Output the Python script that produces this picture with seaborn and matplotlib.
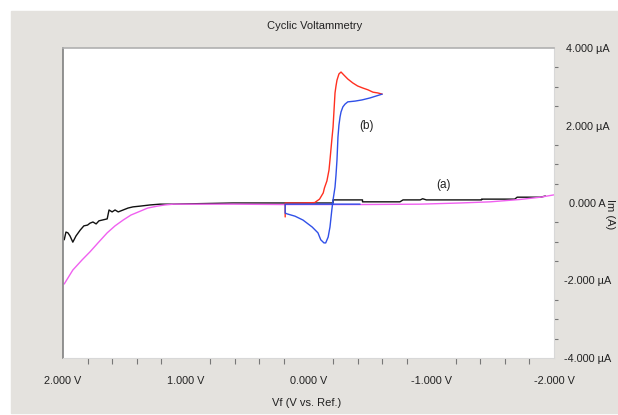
"""
plot.py - cyclic voltammetry chart (seaborn recreation)
"""

import numpy as np
import pandas as pd
import matplotlib
matplotlib.use('Agg')
import matplotlib.pyplot as plt
from matplotlib.patches import Rectangle
from matplotlib.ticker import MultipleLocator, FixedLocator, FixedFormatter
import seaborn as sns

# ---- data (V, uA) ----
black_v = [1.99, 1.976, 1.96, 1.943, 1.92, 1.894, 1.86, 1.83, 1.80, 1.78, 1.756,
           1.73, 1.707, 1.68, 1.64, 1.625, 1.60, 1.576, 1.55, 1.51, 1.47, 1.43,
           1.37, 1.29, 1.21, 1.11, 0.615, 0.19, -0.20, -0.20, -0.44, -0.44,
           -0.745, -0.77, -0.91, -0.93, -0.96, -1.41, -1.41, -1.68, -1.70,
           -1.89, -1.93]
black_i = [-0.95, -0.75, -0.77, -0.85, -1.01, -0.85, -0.70, -0.59, -0.57, -0.52,
           -0.49, -0.54, -0.46, -0.44, -0.41, -0.18, -0.23, -0.18, -0.23, -0.18,
           -0.13, -0.10, -0.08, -0.05, -0.03, -0.03, 0.0, 0.0, 0.0, 0.08, 0.08,
           0.03, 0.03, 0.08, 0.08, 0.11, 0.08, 0.08, 0.10, 0.10, 0.15, 0.15, 0.18]

magenta_v = [1.99, 1.92, 1.845, 1.78, 1.715, 1.64, 1.576, 1.51, 1.446, 1.37,
             1.31, 1.23, 1.17, 1.10, 0.615, 0.19, -0.42, -0.91, -1.23, -1.48,
             -1.72, -1.89, -2.0]
magenta_i = [-2.09, -1.73, -1.47, -1.26, -1.03, -0.77, -0.59, -0.44, -0.31, -0.21,
             -0.13, -0.08, -0.05, -0.03, -0.03, -0.04, -0.04, -0.03, 0.0, 0.03,
             0.09, 0.15, 0.21]

red_v = [0.19, 0.19, 0.07, -0.05, -0.09, -0.12, -0.13, -0.15, -0.167, -0.175,
         -0.19, -0.20, -0.208, -0.216, -0.224, -0.232, -0.248, -0.265, -0.289,
         -0.32, -0.36, -0.40, -0.44, -0.485, -0.525, -0.565, -0.60]
red_i = [-0.36, 0.0, 0.0, 0.01, 0.10, 0.26, 0.39, 0.57, 0.85, 1.11, 1.63, 1.96,
         2.40, 2.84, 3.02, 3.17, 3.33, 3.38, 3.30, 3.20, 3.10, 3.02, 2.97, 2.92,
         2.86, 2.84, 2.81]

blue_v = [-0.60, -0.55, -0.50, -0.436, -0.38, -0.32, -0.297, -0.28, -0.265,
          -0.257, -0.248, -0.24, -0.232, -0.224, -0.216, -0.20, -0.19, -0.175,
          -0.16, -0.14, -0.126, -0.10, -0.077, -0.03, 0.045, 0.11, 0.175, 0.19,
          0.19, -0.42]
blue_i = [2.81, 2.76, 2.71, 2.66, 2.63, 2.61, 2.55, 2.48, 2.35, 2.22, 2.01, 1.70,
          1.11, 0.72, 0.41, 0.08, -0.18, -0.62, -0.88, -1.03, -1.03, -0.95, -0.77,
          -0.62, -0.44, -0.34, -0.28, -0.26, -0.03, -0.03]

x_ticks = [2, 1, 0, -1, -2]
x_labels = ['2.000 V', '1.000 V', '0.000 V', '-1.000 V', '-2.000 V']
y_ticks = [4, 2, 0, -2, -4]
y_labels = ['4.000 \u00b5A', '2.000 \u00b5A', '0.000 A', '-2.000 \u00b5A', '-4.000 \u00b5A']

sns.set_style('white')
plt.rcParams['font.family'] = ['Liberation Sans Narrow', 'Liberation Sans', 'DejaVu Sans']

W, H = 618, 415
fig = plt.figure(figsize=(W / 100, H / 100), dpi=100, facecolor='white')
# grey window panel, kept behind the axes
fig.patches.append(Rectangle((11 / W, 2 / H), 1, (413 - 11) / H,
                             transform=fig.transFigure, color='#e4e2de', zorder=-10))

ax = fig.add_axes([63 / W, 1 - 358 / H, (554 - 63) / W, (358 - 48) / H])
ax.set_zorder(1)
ax.set_facecolor('white')

series = [(black_v, black_i, '#111111'),
          (magenta_v, magenta_i, '#f060f0'),
          (red_v, red_i, '#ff3020'),
          (blue_v, blue_i, '#3050e8')]
for v, i, c in series:
    df = pd.DataFrame({'v': v, 'i': i})
    sns.lineplot(data=df, x='v', y='i', sort=False, estimator=None,
                 color=c, lw=1.0, ax=ax)

ax.set_xlim(2, -2)
ax.set_ylim(-4, 4)

# axes look
ax.spines['top'].set_color('#b0b0b0')
ax.spines['top'].set_linewidth(1.2)
ax.spines['left'].set_color('#808080')
ax.spines['left'].set_linewidth(1.2)
for side in ['right', 'bottom']:
    ax.spines[side].set_color('#d8d8d8')
    ax.spines[side].set_linewidth(0.8)

ax.yaxis.tick_right()
ax.xaxis.set_major_locator(FixedLocator(x_ticks))
ax.xaxis.set_major_formatter(FixedFormatter(x_labels))
ax.xaxis.set_minor_locator(MultipleLocator(0.2))
ax.yaxis.set_major_locator(FixedLocator(y_ticks))
ax.yaxis.set_major_formatter(FixedFormatter(y_labels))
ax.yaxis.set_minor_locator(MultipleLocator(0.5))

ax.tick_params(axis='x', which='both', bottom=True, direction='out', length=4,
               width=0.8, color='#777777', labelsize=7.8, labelcolor='#222222', pad=13)
ax.tick_params(axis='x', which='major', length=0)
ax.tick_params(axis='y', which='both', right=True, left=False, direction='out',
               length=3, width=0.8, color='#777777', labelsize=7.8,
               labelcolor='#222222', pad=24)
ax.tick_params(axis='y', which='major', length=0)
for lab in ax.get_yticklabels():
    lab.set_horizontalalignment('center')

ax.set_xlabel('')
ax.set_ylabel('')

fig.text(315 / W, 1 - 26 / H, 'Cyclic Voltammetry', ha='center', va='center',
         fontsize=8, color='#222222')
fig.text(307 / W, 1 - 403 / H, 'Vf (V vs. Ref.)', ha='center', va='center',
         fontsize=8, color='#222222')
fig.text(610 / W, 1 - 214 / H, 'Im (A)', ha='center', va='center',
         rotation=-90, fontsize=8, color='#222222')

ax.text(-0.47, 2.0, '(b)', ha='center', va='center', fontsize=8.5, color='#222222')
ax.text(-1.10, 0.46, '(a)', ha='center', va='center', fontsize=8.5, color='#222222')

plt.savefig('out.png', dpi=100, facecolor='white')
